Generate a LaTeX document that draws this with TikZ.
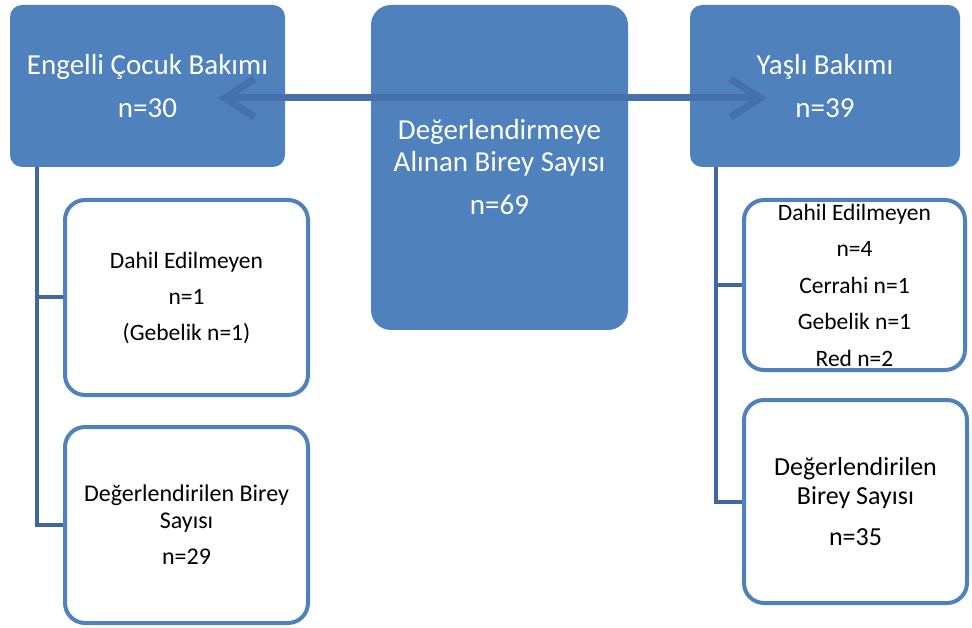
\documentclass[tikz,border=0pt]{standalone}
\usepackage{fontspec}
\setmainfont{Carlito}
\usetikzlibrary{arrows.meta,positioning}
\definecolor{kutumavi}{RGB}{79,129,189}
\definecolor{cizgimavi}{RGB}{65,104,158}
\definecolor{okmavi}{RGB}{68,113,172}
\tikzstyle{anakutu} = [fill=kutumavi, text=white, rounded corners=12pt, align=center, inner sep=0pt]
\tikzstyle{altkutu} = [draw=kutumavi, line width=4pt, fill=white, rounded corners=20pt, align=center, inner sep=0pt]
\tikzstyle{kol} = [cizgimavi, line width=4pt]
\tikzstyle{okcizgi} = [okmavi, line width=7pt, <->, >={Straight Barb[length=30pt,width=38pt]}]

\begin{document}
\begin{tikzpicture}[x=1pt,y=-1pt]
\useasboundingbox (0,0) rectangle (972,628);

% Top boxes
\node[anakutu, minimum width=275pt, minimum height=162pt, font=\fontsize{29}{43}\selectfont] (engelli) at (147.5,86) {Engelli Çocuk Bakımı\\n=30};
\node[anakutu, rounded corners=20pt, minimum width=257pt, minimum height=325pt, font=\fontsize{29}{32}\selectfont] (merkez) at (499.5,167.5) {Değerlendirmeye\\Alınan Birey Sayısı\\[11pt]n=69};
\node[anakutu, minimum width=270pt, minimum height=162pt, font=\fontsize{29}{43}\selectfont] (yasli) at (825,86) {Yaşlı Bakımı\\n=39};

% Left branch
\node[altkutu, minimum width=243pt, minimum height=195pt, font=\fontsize{23.5}{36}\selectfont] (dahil1) at (186.5,297.5) {Dahil Edilmeyen\\n=1\\(Gebelik n=1)};
\node[altkutu, minimum width=243pt, minimum height=196pt, font=\fontsize{24}{27}\selectfont] (deger1) at (186.5,525) {Değerlendirilen Birey\\Sayısı\\[9pt]n=29};

% Right branch
\node[altkutu, minimum width=221pt, minimum height=170pt, font=\fontsize{23.5}{36.5}\selectfont] (dahil2) at (854.5,285) {Dahil Edilmeyen\\n=4\\Cerrahi n=1\\Gebelik n=1\\Red n=2};
\node[altkutu, minimum width=223pt, minimum height=203pt, font=\fontsize{26}{29}\selectfont] (deger2) at (855.5,501.5) {Değerlendirilen\\Birey Sayısı\\[12pt]n=35};

% Tree lines
\coordinate (solkok) at (37,167);
\coordinate (sagkok) at (716,167);
\draw[kol] (solkok) |- (deger1.west);
\draw[kol] (solkok |- dahil1.west) -- (dahil1.west);
\draw[kol] (sagkok) |- (deger2.west);
\draw[kol] (sagkok |- dahil2.west) -- (dahil2.west);

% Double arrow
\coordinate (soluc) at (218,98);
\coordinate (saguc) at (767,98);
\draw[okcizgi] (soluc) -- (saguc);
\end{tikzpicture}
\end{document}
